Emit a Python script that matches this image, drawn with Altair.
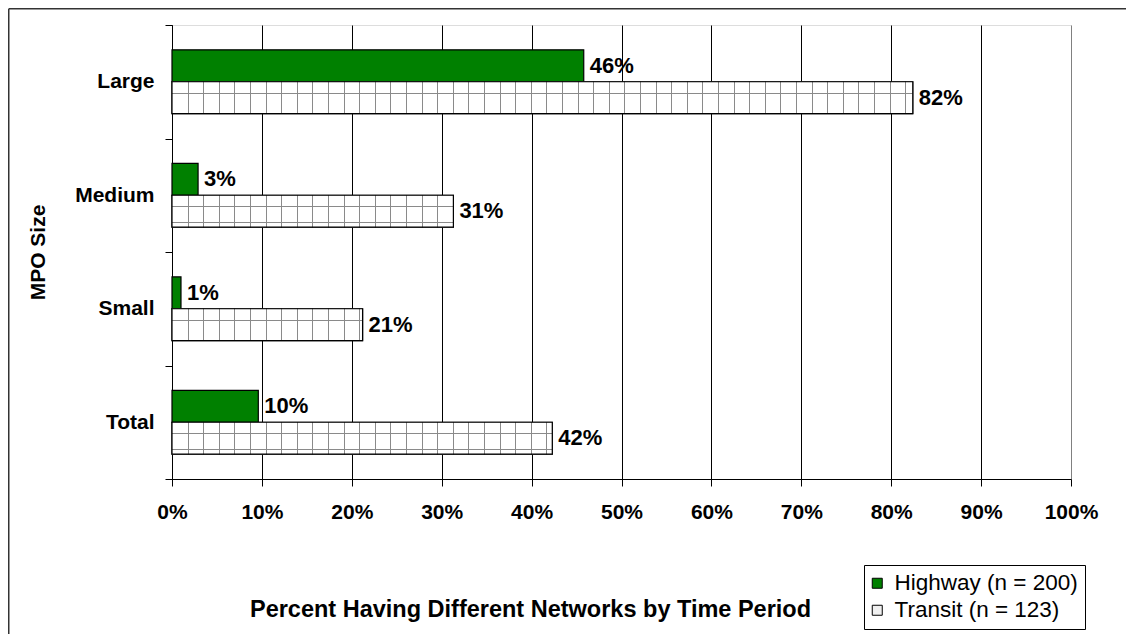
import altair as alt
import pandas as pd

# ---------------- data ----------------
categories = ["Large", "Medium", "Small", "Total"]
series = ["Highway (n = 200)", "Transit (n = 123)"]
highway = [45.8, 2.9, 1.0, 9.6]
transit = [82.4, 31.3, 21.2, 42.3]
x_ticks = [0, 10, 20, 30, 40, 50, 60, 70, 80, 90, 100]

# ---------------- layout ----------------
W, H = 899, 454
PAD = {"left": 164, "top": 17, "right": 55, "bottom": 155}
FONT = "Liberation Sans"
GREEN = "#008000"
LINE = "#8a8a8a"
SPACING = 15.6          # pattern cell size in px
PX = W / 100.0          # px per percent

rows = []
for c, h, t in zip(categories, highway, transit):
    rows.append({"cat": c, "series": series[0], "value": h})
    rows.append({"cat": c, "series": series[1], "value": t})
df = pd.DataFrame(rows)
df["label"] = df["value"].round().astype(int).astype(str) + "%"


def vstripes(value):
    L = value * PX
    stops = [{"offset": 0, "color": "#ffffff"}]
    k = 1
    while k * SPACING < L - 3:
        p = round(k * SPACING)
        a = p / L
        b = (p + 1) / L
        stops += [{"offset": a, "color": "#ffffff"}, {"offset": a, "color": LINE},
                  {"offset": b, "color": LINE}, {"offset": b, "color": "#ffffff"}]
        k += 1
    stops.append({"offset": 1, "color": "#ffffff"})
    return {"gradient": "linear", "x1": 0, "y1": 0, "x2": 1, "y2": 0, "stops": stops}


CLEAR = "rgba(255,255,255,0)"
hstripes = {
    "gradient": "linear", "x1": 0, "y1": 0, "x2": 0, "y2": 1,
    "stops": [
        {"offset": 0, "color": CLEAR},
        {"offset": 0.34, "color": CLEAR}, {"offset": 0.34, "color": LINE},
        {"offset": 0.37, "color": LINE}, {"offset": 0.37, "color": CLEAR},
        {"offset": 0.84, "color": CLEAR}, {"offset": 0.84, "color": LINE},
        {"offset": 0.87, "color": LINE}, {"offset": 0.87, "color": CLEAR},
        {"offset": 1, "color": CLEAR},
    ],
}

x_enc = alt.X(
    "value:Q",
    scale=alt.Scale(domain=[0, 100], nice=False, zero=True),
    axis=alt.Axis(
        values=x_ticks,
        labelExpr="datum.value + '%'",
        labelFont=FONT, labelFontSize=21, labelFontWeight="bold", labelColor="black",
        labelPadding=15, labelFlush=False, labelOverlap=False,
        tickSize=7, tickColor="black", domainColor="black",
        grid=True,
        gridColor={"condition": {"test": "datum.value == 100", "value": "#808080"}, "value": "black"},
        title="Percent Having Different Networks by Time Period",
        titleFont=FONT, titleFontSize=23.5, titleFontWeight="bold", titleColor="black",
        titleX=358, titleY=130, titleAlign="center", titleBaseline="middle",
    ),
)
y_enc = alt.Y(
    "cat:N",
    sort=categories,
    scale=alt.Scale(paddingInner=0, paddingOuter=0),
    axis=alt.Axis(
        tickBand="extent", grid=False,
        labelFont=FONT, labelFontSize=21, labelFontWeight="bold", labelColor="black",
        labelPadding=11, tickSize=7, tickColor="black", domainColor="black",
        title="MPO Size",
        titleFont=FONT, titleFontSize=21, titleFontWeight="bold", titleColor="black",
        titleAngle=270, titleX=-134, titleY=227, titleAlign="center", titleBaseline="middle",
    ),
)
yoff = alt.YOffset("series:N", sort=series, scale=alt.Scale(paddingInner=0, paddingOuter=0.78))

base = alt.Chart(df).encode(x=x_enc, y=y_enc, yOffset=yoff)

bars = base.mark_bar(stroke="black", strokeWidth=1.2, cornerRadius=0).encode(
    fill=alt.Fill(
        "series:N",
        sort=series,
        scale=alt.Scale(domain=series, range=[GREEN, "#f0f0f0"]),
        legend=alt.Legend(
            title=None, orient="none", legendX=692, legendY=540, direction="vertical",
            strokeColor="black", fillColor="white", padding=7,
            symbolType="square", symbolSize=100, symbolStrokeColor="black", symbolStrokeWidth=1,
            symbolOffset=-5,
            labelFont=FONT, labelFontSize=22.5, labelColor="black", labelOffset=6,
            labelLimit=400, rowPadding=4,
        ),
    )
)

layers = [bars]
for c, t in zip(categories, transit):
    layers.append(
        base.transform_filter(
            (alt.datum.cat == c) & (alt.datum.series == series[1])
        ).mark_bar(fill=vstripes(t), strokeWidth=0)
    )
layers.append(
    base.transform_filter(alt.datum.series == series[1]).mark_bar(fill=hstripes, strokeWidth=0)
)
layers.append(
    base.transform_filter(alt.datum.series == series[1]).mark_bar(
        fill="transparent", stroke="black", strokeWidth=1.2
    )
)

labels = base.mark_text(
    align="left", baseline="middle", dx=6, font=FONT, fontSize=22, fontWeight="bold", color="black"
).encode(text="label:N")
layers.append(labels)

frame_df = pd.DataFrame({"k": [0]})
frame_top = alt.Chart(frame_df).mark_rule(color="#333333", strokeWidth=1.5).encode(
    x=alt.value(-PAD["left"] + 0.75), x2=alt.value(W + PAD["right"]), y=alt.value(-PAD["top"] + 0.75)
)
frame_left = alt.Chart(frame_df).mark_rule(color="#333333", strokeWidth=1.5).encode(
    x=alt.value(-PAD["left"] + 0.75), y=alt.value(-PAD["top"] + 0.75), y2=alt.value(H + PAD["bottom"])
)
layers += [frame_top, frame_left]

chart = alt.layer(*layers).properties(
    width=W, height=H,
    autosize=alt.AutoSizeParams(type="none"),
    padding=PAD,
    background="white",
).configure_view(
    stroke="#808080", strokeWidth=1
).configure(font=FONT)

chart.save("out.html", embed_options={"renderer": "svg", "actions": False})
